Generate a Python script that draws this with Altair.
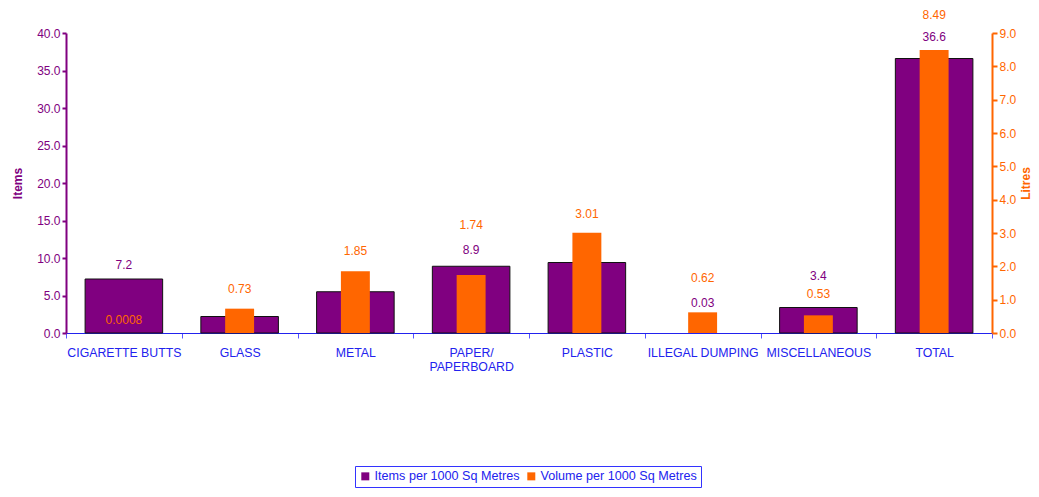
import altair as alt
import pandas as pd

categories = ["CIGARETTE BUTTS", "GLASS", "METAL", "PAPER/ PAPERBOARD", "PLASTIC",
              "ILLEGAL DUMPING", "MISCELLANEOUS", "TOTAL"]
items = [7.2, 2.2, 5.5, 8.9, 9.4, 0.03, 3.4, 36.6]
litres = [0.0008, 0.73, 1.85, 1.74, 3.01, 0.62, 0.53, 8.49]
items_text = ["7.2", "2.2", "5.5", "8.9", "9.4", "0.03", "3.4", "36.6"]
litres_text = ["0.0008", "0.73", "1.85", "1.74", "3.01", "0.62", "0.53", "8.49"]
series = ["Items per 1000 Sq Metres", "Volume per 1000 Sq Metres"]

# label nudges (pixels, negative = up) as placed in the original
items_label_shift = [-14, 2, 0, -16, -13, -30, -32, -22]
litres_label_shift = [-13, -20, -20, -50, -19, -34, -21, -35]

PURPLE = "#800080"
ORANGE = "#FF6600"
BLUE = "#2222EE"
FONT = "Liberation Sans"
PLOT_H = 300

df = pd.DataFrame({
    "cat": categories, "items": items, "litres": litres,
    "itxt": items_text, "ltxt": litres_text,
    "ishift": items_label_shift, "lshift": litres_label_shift,
})

x_enc = alt.X("cat:N", sort=categories, title=None,
              scale=alt.Scale(paddingInner=0, paddingOuter=0),
              axis=alt.Axis(labelAngle=0, labelColor=BLUE, domainColor=BLUE, tickColor="#5555FF",
                            tickBand="extent", tickSize=5, labelPadding=8, labelFontSize=12.3,
                            labelFont=FONT, domainWidth=1.2,
                            labelExpr="datum.label == 'PAPER/ PAPERBOARD' ? ['PAPER/', 'PAPERBOARD'] : datum.label"))

items_axis = alt.Axis(orient="left", values=list(range(0, 41, 5)), format=".1f", title="Items",
                      titleColor=PURPLE, labelColor=PURPLE, domainColor=PURPLE, tickColor=PURPLE,
                      domainWidth=2, tickWidth=2, tickSize=4, grid=False, labelFontSize=12,
                      titleFontSize=12, titleFont=FONT, labelFont=FONT, titlePadding=12,
                      titleFontWeight="bold")
litres_axis = alt.Axis(orient="right", values=list(range(0, 10)), format=".1f", title="Litres",
                       titleColor=ORANGE, labelColor=ORANGE, domainColor=ORANGE, tickColor=ORANGE,
                       domainWidth=2, tickWidth=2, tickSize=5, grid=False, labelFontSize=12,
                       titleFontSize=12, titleFont=FONT, labelFont=FONT,
                       titleAngle=270, titleX=33, titleY=150, titleAlign="center",
                       titleBaseline="middle", titleFontWeight="bold")
items_scale = alt.Scale(domain=[0, 40], nice=False)
litres_scale = alt.Scale(domain=[0, 9], nice=False)

color_scale = alt.Scale(domain=series, range=[PURPLE, ORANGE])

base = alt.Chart(df)

purple_bars = base.mark_bar(width={"band": 0.67}, stroke="#111111").transform_calculate(
    s=f"'{series[0]}'"
).encode(
    x=x_enc, y=alt.Y("items:Q", scale=items_scale, axis=items_axis),
    color=alt.Color("s:N", scale=color_scale, title=None),
    strokeWidth=alt.condition("datum.items > 0.1", alt.value(1), alt.value(0)),
    opacity=alt.condition("datum.items > 0.1", alt.value(1), alt.value(0)),
)
purple_text = base.mark_text(fontSize=12, font=FONT, color=PURPLE, baseline="middle").transform_calculate(
    iy=f"datum.items - datum.ishift * 40 / {PLOT_H}"
).encode(
    x=x_enc, y=alt.Y("iy:Q", scale=items_scale, axis=items_axis), text="itxt:N",
)
orange_bars = base.mark_bar(width={"band": 0.25}).transform_calculate(
    s=f"'{series[1]}'"
).encode(
    x=x_enc, y=alt.Y("litres:Q", scale=litres_scale, axis=litres_axis),
    color=alt.Color("s:N", scale=color_scale, title=None),
)
orange_text = base.mark_text(fontSize=12, font=FONT, color=ORANGE, baseline="middle").transform_calculate(
    ly=f"datum.litres - datum.lshift * 9 / {PLOT_H}"
).encode(
    x=x_enc, y=alt.Y("ly:Q", scale=litres_scale, axis=litres_axis), text="ltxt:N",
)

chart = alt.layer(
    alt.layer(purple_bars, purple_text),
    alt.layer(orange_bars, orange_text),
).resolve_scale(y="independent").properties(
    width=926, height=PLOT_H,
    autosize=alt.AutoSizeParams(type="none"),
    padding={"left": 58, "top": 25, "right": 39, "bottom": 155},
).configure_view(stroke=None).configure_legend(
    orient="none", legendX=289, legendY=433, direction="horizontal",
    strokeColor="#3333FF", padding=4, labelColor=BLUE, labelFontSize=12.6, labelFont=FONT,
    labelLimit=400, symbolType="square", symbolSize=64, symbolStrokeWidth=0,
    columnPadding=5, labelOffset=3,
)

chart.save("out.html", embed_options={"renderer": "svg", "actions": False})
